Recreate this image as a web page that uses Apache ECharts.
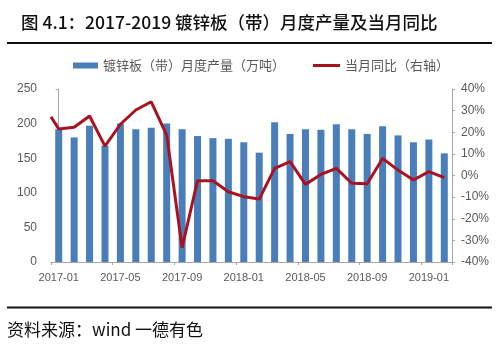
<!DOCTYPE html>
<html>
<head>
<meta charset="utf-8">
<script src="https://cdn.jsdelivr.net/npm/echarts@6/dist/echarts.min.js"></script>
<style>
html,body{margin:0;padding:0;background:#fff;}
#chart{width:504px;height:345px;}
</style>
</head>
<body>
<div id="chart"></div>
<script>
var titleText = '图 4.1：2017-2019 镀锌板（带）月度产量及当月同比';
var sourceText = '资料来源：wind 一德有色';
var barName = '镀锌板（带）月度产量（万吨）';
var lineName = '当月同比（右轴）';

var categories = ['2017-01','2017-02','2017-03','2017-04','2017-05','2017-06','2017-07','2017-08','2017-09','2017-10','2017-11','2017-12',
                  '2018-01','2018-02','2018-03','2018-04','2018-05','2018-06','2018-07','2018-08','2018-09','2018-10','2018-11','2018-12',
                  '2019-01','2019-02'];
var production = [192, 180, 197, 168, 200, 192, 194, 200, 192, 182, 179, 178,
                  173, 158, 202, 185, 192, 191, 199, 192, 185, 196, 183, 173,
                  177, 157];
// year-on-year (%), right axis
var yoyLead = 27.2; // value drawn at the left edge of the plot
var yoy = [21.5, 22.3, 27.5, 13.6, 23.7, 30.3, 34.1, 18.7, -33.4, -2.4, -2.4, -7.5,
           -9.8, -10.9, 3.3, 6.4, -4.1, 0.5, 3.3, -3.6, -3.8, 7.9, 2.5, -2.1,
           1.8, -1.0];
var leftTicks = {min: 0, max: 250, interval: 50};
var rightTicks = {min: -40, max: 40, interval: 10};

var lineData = [[-0.5, yoyLead]];
for (var i = 0; i < yoy.length; i++) lineData.push([i, yoy[i]]);

var axisGray = '#A6A6A6';
var labelGray = '#595959';
var latin = '"Liberation Sans", Arial, sans-serif';
var cjk = '"Noto Sans CJK SC", sans-serif';

var chart = echarts.init(document.getElementById('chart'), null, {renderer: 'canvas'});
chart.setOption({
  animation: false,
  backgroundColor: '#fff',
  title: {
    text: titleText, left: 16, top: 9,
    textStyle: {fontFamily: cjk, fontSize: 17.5, fontWeight: 500, color: '#111'}
  },
  graphic: [
    {type: 'line', shape: {x1: 7, y1: 43, x2: 492, y2: 43}, style: {stroke: '#111', lineWidth: 2}},
    {type: 'line', shape: {x1: 7, y1: 307.5, x2: 492, y2: 307.5}, style: {stroke: '#111', lineWidth: 2}},
    {type: 'text', left: 7, top: 321, style: {text: sourceText, font: '17px "Noto Sans CJK SC", sans-serif', fill: '#111'}}
  ],
  legend: [
    {data: [{name: barName, icon: 'rect'}], left: 68, top: 54, itemWidth: 25, itemHeight: 6,
     textStyle: {fontFamily: cjk, fontSize: 13, color: labelGray}},
    {data: [{name: lineName, icon: 'rect'}], left: 308, top: 54, itemWidth: 27, itemHeight: 3,
     textStyle: {fontFamily: cjk, fontSize: 13, color: labelGray}}
  ],
  grid: {left: 51, right: 52, top: 89, bottom: 83, containLabel: false},
  xAxis: [
    {type: 'category', data: categories, boundaryGap: true,
     axisLine: {lineStyle: {color: axisGray, width: 1}},
     axisTick: {show: true, interval: 3, length: 3, lineStyle: {color: axisGray}},
     axisLabel: {interval: 3, margin: 10, fontFamily: latin, fontSize: 11, color: labelGray},
     splitLine: {show: false}},
    {type: 'value', min: -0.5, max: 25.5, show: false, splitLine: {show: false}}
  ],
  yAxis: [
    {type: 'value', min: leftTicks.min, max: leftTicks.max, interval: leftTicks.interval,
     axisLine: {show: true, lineStyle: {color: axisGray}},
     axisTick: {show: true, length: 3, lineStyle: {color: axisGray}},
     axisLabel: {margin: 14, fontFamily: latin, fontSize: 12, color: labelGray},
     splitLine: {show: false}},
    {type: 'value', min: rightTicks.min, max: rightTicks.max, interval: rightTicks.interval,
     position: 'right',
     axisLine: {show: true, lineStyle: {color: axisGray}},
     axisTick: {show: true, length: 3, lineStyle: {color: axisGray}},
     axisLabel: {margin: 9, fontFamily: latin, fontSize: 12, color: labelGray, formatter: '{value}%'},
     splitLine: {show: false}}
  ],
  series: [
    {name: barName, type: 'bar', xAxisIndex: 0, yAxisIndex: 0, data: production,
     barWidth: 7, itemStyle: {color: '#4A7EBB'}, z: 2},
    {name: lineName, type: 'line', xAxisIndex: 1, yAxisIndex: 1, data: lineData,
     showSymbol: false, symbol: 'none', smooth: false,
     lineStyle: {color: '#A8131F', width: 3}, itemStyle: {color: '#A8131F'}, z: 3}
  ]
});
</script>
</body>
</html>
